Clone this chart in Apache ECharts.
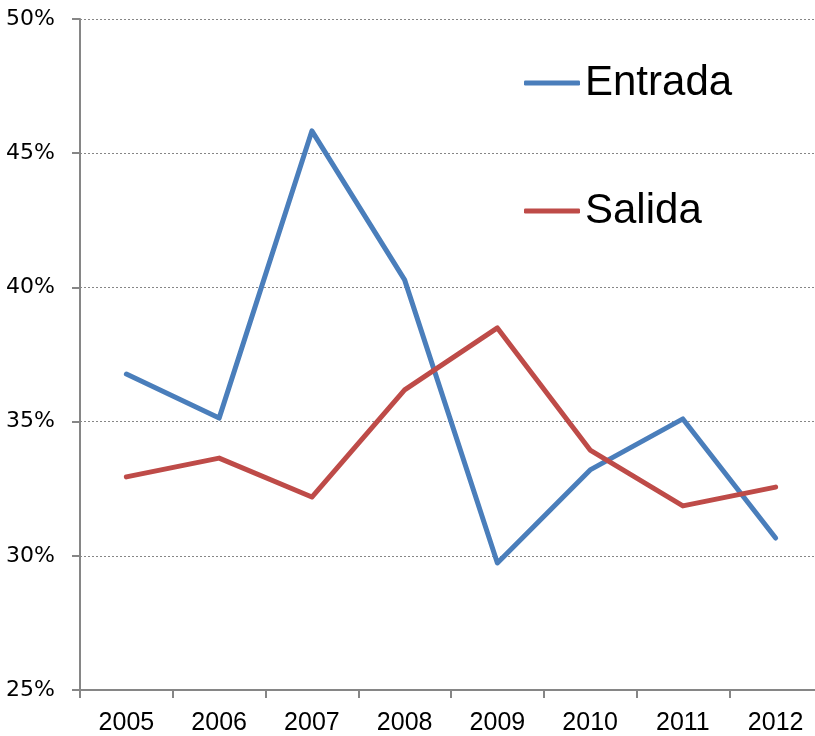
<!DOCTYPE html>
<html>
<head>
<meta charset="utf-8">
<script src="https://cdn.jsdelivr.net/npm/echarts@6/dist/echarts.min.js"></script>
<style>
html,body{margin:0;padding:0;background:#fff;}
#c{width:815px;height:736px;}
</style>
</head>
<body>
<div id="c"></div>
<script>
const categories = ['2005','2006','2007','2008','2009','2010','2011','2012'];
const entrada = [36.77, 35.13, 45.83, 40.28, 29.73, 33.2, 35.1, 30.66];
const salida = [32.94, 33.64, 32.19, 36.18, 38.49, 33.94, 31.86, 32.56];
const seriesNames = ['Entrada', 'Salida'];

const chart = echarts.init(document.getElementById('c'), null, {renderer: 'canvas'});
const axisGrey = '#868686';
const legendText = {fontFamily: 'Liberation Sans, Arial, sans-serif', fontSize: 42, color: '#000'};
chart.setOption({
  animation: false,
  backgroundColor: '#fff',
  grid: {left: 80, top: 19, width: 742, height: 671, containLabel: false, outerBoundsMode: 'none'},
  legend: [
    {data: [seriesNames[0]], left: 524, top: 62, padding: 0, itemWidth: 56, itemHeight: 5, itemGap: 6,
     icon: 'roundRect', textStyle: legendText},
    {data: [seriesNames[1]], left: 524, top: 190, padding: 0, itemWidth: 56, itemHeight: 5, itemGap: 6,
     icon: 'roundRect', textStyle: legendText}
  ],
  xAxis: {
    type: 'category',
    data: categories,
    boundaryGap: true,
    axisLine: {lineStyle: {color: axisGrey, width: 2}},
    axisTick: {show: true, length: 8, lineStyle: {color: axisGrey, width: 2}, alignWithLabel: false},
    axisLabel: {margin: 21, fontFamily: 'Liberation Sans, Arial, sans-serif', fontSize: 25, color: '#000'},
    splitLine: {show: false}
  },
  yAxis: {
    type: 'value',
    min: 25, max: 50, interval: 5,
    axisLine: {show: true, lineStyle: {color: axisGrey, width: 2}},
    axisTick: {show: true, length: 8, lineStyle: {color: axisGrey, width: 2}},
    axisLabel: {margin: 25, formatter: v => v + '%', fontFamily: 'DejaVu Sans, sans-serif', fontSize: 22, color: '#000'},
    splitLine: {show: true, lineStyle: {color: axisGrey, type: [2, 2], width: 1}}
  },
  series: [
    {name: seriesNames[0], type: 'line', data: entrada, symbol: 'none', smooth: false,
     lineStyle: {color: '#4A7EBB', width: 5, cap: 'round', join: 'round'}, itemStyle: {color: '#4A7EBB'}},
    {name: seriesNames[1], type: 'line', data: salida, symbol: 'none', smooth: false,
     lineStyle: {color: '#BE4B48', width: 5, cap: 'round', join: 'round'}, itemStyle: {color: '#BE4B48'}}
  ]
});
</script>
</body>
</html>
